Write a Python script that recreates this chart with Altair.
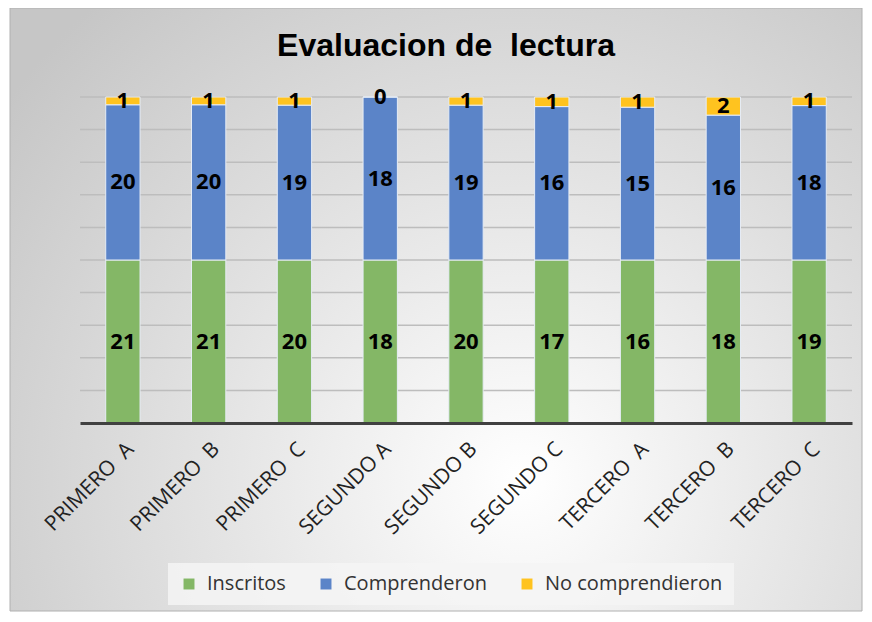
import altair as alt
import pandas as pd

categories = ["PRIMERO\u00a0 A", "PRIMERO\u00a0 B", "PRIMERO\u00a0 C", "SEGUNDO A", "SEGUNDO B",
              "SEGUNDO C", "TERCERO\u00a0 A", "TERCERO\u00a0 B", "TERCERO\u00a0 C"]
inscritos = [21, 21, 20, 18, 20, 17, 16, 18, 19]
comprenderon = [20, 20, 19, 18, 19, 16, 15, 16, 18]
no_comprendieron = [1, 1, 1, 0, 1, 1, 1, 2, 1]
series = ["Inscritos", "Comprenderon", "No comprendieron"]
colors = ["#84B766", "#5B84C8", "#FFC31F"]
grid_values = [i / 10 for i in range(1, 11)]

rows = []
for i, c in enumerate(categories):
    for k, (s, vals) in enumerate(zip(series, [inscritos, comprenderon, no_comprendieron])):
        rows.append({"cat": c, "serie": s, "value": vals[i], "ord": k})
df = pd.DataFrame(rows)

W, H = 772, 326

bg = alt.Chart(pd.DataFrame({"a": [0]})).mark_rect(
    fill=alt.Gradient(
        gradient="radial",
        stops=[alt.GradientStop(color="#ffffff", offset=0),
               alt.GradientStop(color="#c6c6c6", offset=1)],
        x1=0.6, y1=0.7, x2=0.6, y2=0.7, r1=0, r2=0.75,
    ),
    stroke="#b0b0b0", strokeWidth=1,
).encode(x=alt.value(-70), x2=alt.value(W + 10), y=alt.value(-89), y2=alt.value(H + 188))

yscale = alt.Scale(domain=[0, 1])

grid = alt.Chart(pd.DataFrame({"g": grid_values})).mark_rule(
    color="#bdbdbd", strokeWidth=1.5
).encode(y=alt.Y("g:Q", scale=yscale, axis=None))

xenc = alt.X("cat:N", sort=categories, title=None,
             scale=alt.Scale(paddingInner=0.6, paddingOuter=0.3),
             axis=alt.Axis(labelAngle=-45, labelAlign="right", labelBaseline="top",
                           labelFont="Open Sans", labelFontSize=21, labelColor="#222222",
                           labelPadding=15, ticks=False, domainColor="#404040",
                           domainWidth=3, grid=False, zindex=1))

bars = alt.Chart(df).mark_bar(stroke="#e6ecf5", strokeWidth=1).encode(
    x=xenc,
    y=alt.Y("value:Q", stack="normalize", scale=yscale, title=None, axis=None),
    color=alt.Color("serie:N", sort=series,
                    scale=alt.Scale(domain=series, range=colors),
                    legend=alt.Legend(title=None, orient="none", direction="horizontal",
                                      legendX=88, legendY=466, symbolType="square",
                                      symbolSize=120, symbolStrokeWidth=0,
                                      labelFont="Open Sans", labelFontSize=20,
                                      labelColor="#333333", columnPadding=30,
                                      labelOffset=8, padding=11, zindex=1,
                                      labelLimit=400,
                                      fillColor="rgba(245,245,245,0.85)")),
    order=alt.Order("ord:Q"),
)

labels = alt.Chart(df).transform_joinaggregate(
    total="sum(value)", groupby=["cat"]
).transform_window(
    cum="sum(value)", sort=[alt.SortField("ord")], groupby=["cat"], frame=[None, 0]
).transform_calculate(
    mid="(datum.cum - datum.value / 2) / datum.total"
).mark_text(font="Open Sans", fontWeight="bold", fontSize=22, color="#000000",
            baseline="middle").encode(
    x=alt.X("cat:N", sort=categories),
    y=alt.Y("mid:Q", scale=yscale),
    text="value:Q",
)

chart = alt.layer(bg, grid, bars, labels).properties(
    width=W, height=H,
    autosize=alt.AutoSizeParams(type="none"),
    padding={"left": 72, "top": 89, "right": 12, "bottom": 191},
    background="#ffffff",
    title=alt.Title("Evaluacion de\u00a0 lectura", font="Liberation Sans", fontSize=32,
                    fontWeight="bold", color="#000000", anchor="middle", dx=-20,
                    offset=0, dy=55, frame="group", zindex=1),
).configure_view(stroke=None)

chart.save("out.html", embed_options={"renderer": "svg", "actions": False})
